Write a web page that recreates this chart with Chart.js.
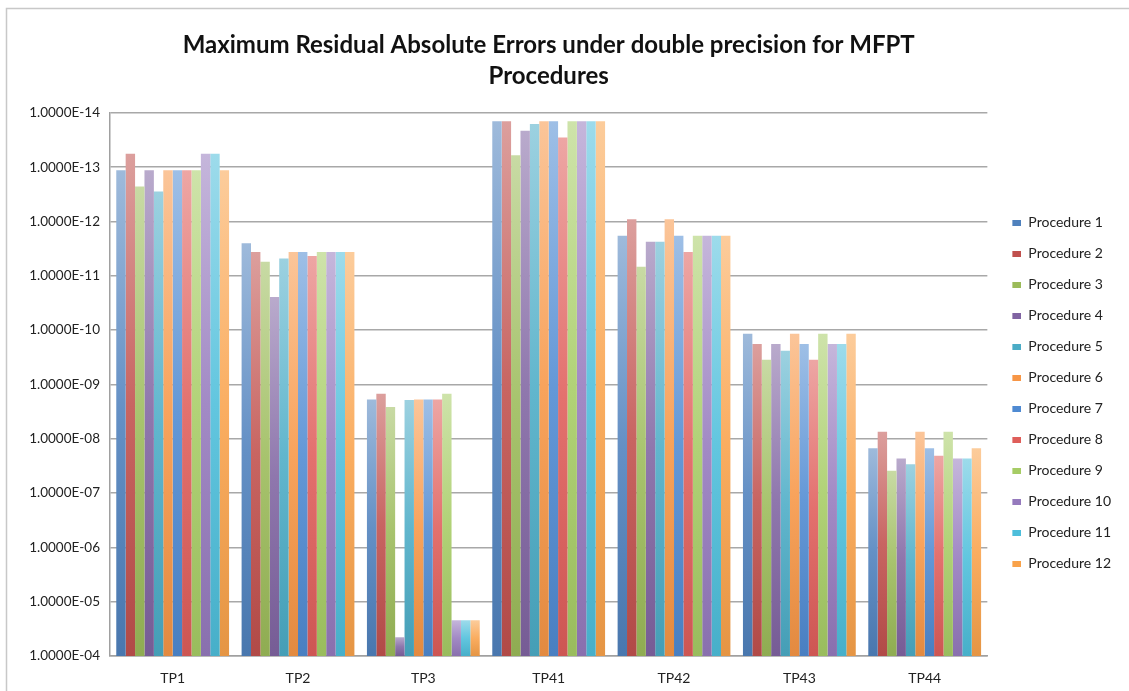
<!DOCTYPE html>
<html>
<head>
<meta charset="utf-8">
<script src="https://cdn.jsdelivr.net/npm/chart.js@4.4.1/dist/chart.umd.min.js"></script>
<style>
  html, body { margin: 0; padding: 0; background: #fff; }
  #wrap { position: absolute; left: 0; top: 0; width: 1129px; height: 691px; }
</style>
</head>
<body>
<div id="wrap"><canvas id="errors"></canvas></div>
<script>
// test problems on the x axis
var categories = ['TP1', 'TP2', 'TP3', 'TP41', 'TP42', 'TP43', 'TP44'];

// max residual absolute error, one array per procedure
var procedure1  = [1.14e-13, 2.5e-12,  1.9e-9,  1.42e-14, 1.82e-12, 1.16e-10, 1.49e-8];
var procedure2  = [5.68e-14, 3.64e-12, 1.48e-9, 1.42e-14, 9.1e-13,  1.8e-10,  7.45e-9];
var procedure3  = [2.27e-13, 5.5e-12,  2.6e-9,  6.0e-14,  6.8e-12,  3.5e-10,  3.9e-8];
var procedure4  = [1.14e-13, 2.45e-11, 4.5e-5,  2.13e-14, 2.35e-12, 1.8e-10,  2.3e-8];
var procedure5  = [2.8e-13,  4.8e-12,  1.93e-9, 1.6e-14,  2.35e-12, 2.4e-10,  2.95e-8];
var procedure6  = [1.14e-13, 3.64e-12, 1.9e-9,  1.42e-14, 9.1e-13,  1.16e-10, 7.45e-9];
var procedure7  = [1.14e-13, 3.64e-12, 1.9e-9,  1.42e-14, 1.82e-12, 1.8e-10,  1.49e-8];
var procedure8  = [1.14e-13, 4.3e-12,  1.9e-9,  2.84e-14, 3.64e-12, 3.5e-10,  2.05e-8];
var procedure9  = [1.14e-13, 3.64e-12, 1.48e-9, 1.42e-14, 1.82e-12, 1.16e-10, 7.45e-9];
var procedure10 = [5.68e-14, 3.64e-12, 2.2e-5,  1.42e-14, 1.82e-12, 1.8e-10,  2.3e-8];
var procedure11 = [5.68e-14, 3.64e-12, 2.2e-5,  1.42e-14, 1.82e-12, 1.8e-10,  2.3e-8];
var procedure12 = [1.14e-13, 3.64e-12, 2.2e-5,  1.42e-14, 1.82e-12, 1.16e-10, 1.49e-8];

// y axis tick values (axis runs 1E-14 at top down to 1E-04)
var yTicks = [1e-14, 1e-13, 1e-12, 1e-11, 1e-10, 1e-9, 1e-8, 1e-7, 1e-6, 1e-5, 1e-4];

var allSeries = [procedure1, procedure2, procedure3, procedure4, procedure5, procedure6,
                 procedure7, procedure8, procedure9, procedure10, procedure11, procedure12];
var colors = ['#4F81BD', '#C0504D', '#9BBB59', '#8064A2', '#4BACC6', '#F79646',
              '#4F8AD2', '#DF5E5A', '#A6CC65', '#957ABD', '#4DBEDB', '#F9A24A'];
var baseValue = yTicks[yTicks.length - 1];

var hexToRgb = function(hex) {
    var n = parseInt(hex.slice(1), 16);
    return [(n >> 16) & 255, (n >> 8) & 255, n & 255];
}
var mix = function(hex, t, target) {
    var c = hexToRgb(hex);
    return 'rgb(' + c.map(function(v) { return Math.round(v + (target - v) * t); }).join(',') + ')';
}

// excel-ish gradient: pale at the top of the bar, full colour at the base
var barFill = function(hex) {
    return function(ctx) {
        var chart = ctx.chart;
        if (!chart.chartArea || !ctx.raw) return hex;
        var y = chart.scales.y;
        var top = y.getPixelForValue(ctx.raw[1]);
        var bottom = y.getPixelForValue(ctx.raw[0]);
        if (!isFinite(top) || !isFinite(bottom) || top === bottom) return hex;
        var g = chart.ctx.createLinearGradient(0, top, 0, bottom);
        g.addColorStop(0, mix(hex, 0.45, 255));
        g.addColorStop(0.5, mix(hex, 0.12, 255));
        g.addColorStop(1, mix(hex, 0.08, 0));
        return g;
    };
}

// small legend swatch with some empty room on its left
var swatch = function(hex) {
    var c = document.createElement('canvas');
    c.width = 17;
    c.height = 6;
    var g = c.getContext('2d');
    g.fillStyle = hex;
    g.fillRect(8, 0, 9, 6);
    return c;
}

var formatTick = function(v) {
    var e = Math.round(Math.log10(v));
    var s = e < 0 ? '-' : '+';
    var a = Math.abs(e);
    return '1.0000E' + s + (a < 10 ? '0' + a : a);
}

var frame = {
    id: 'frame',
    beforeDraw: function(chart) {
        var c = chart.ctx;
        c.save();
        c.strokeStyle = '#C8C8C8';
        c.lineWidth = 1.5;
        c.strokeRect(6.5, 8.5, 1140, 700);
        c.restore();
    }
};

var myBarChart = new Chart('errors', {
    type: 'bar',
    data: {
        labels: categories,
        datasets: allSeries.map(function(values, i) {
            return {
                label: 'Procedure ' + (i + 1),
                data: values.map(function(v) { return [baseValue, v]; }),
                backgroundColor: barFill(colors[i]),
                borderWidth: 0,
                categoryPercentage: 0.9,
                barPercentage: 1.0
            };
        })
    },
    options: {
        responsive: true,
        maintainAspectRatio: false,
        animation: false,
        layout: { padding: { left: 20, right: 8, top: 0, bottom: 6 } },
        plugins: {
            title: {
                display: true,
                fullSize: false,
                text: ['Maximum Residual Absolute Errors under double precision for MFPT', 'Procedures'],
                color: '#111',
                font: { family: 'Lato', size: 24, weight: 'bold', lineHeight: 1.3 },
                padding: { top: 29.5, bottom: 21 }
            },
            legend: {
                position: 'right',
                fullSize: false,
                title: { display: true, text: ' ', color: 'rgba(0,0,0,0)', font: { size: 10, lineHeight: 1 }, padding: 4 },
                labels: {
                    usePointStyle: true,
                    pointStyleWidth: 17,
                    boxHeight: 6,
                    padding: 17,
                    color: '#222',
                    font: { family: 'Lato', size: 14 },
                    generateLabels: function(chart) {
                        return chart.data.datasets.map(function(ds, i) {
                            return {
                                text: ds.label,
                                fillStyle: colors[i],
                                strokeStyle: colors[i],
                                fontColor: '#222',
                                lineWidth: 0,
                                pointStyle: swatch(colors[i]),
                                datasetIndex: i
                            };
                        });
                    }
                }
            },
            tooltip: { enabled: false }
        },
        scales: {
            x: {
                grid: { display: false, drawTicks: false },
                border: { color: '#A0A0A0', width: 1.5 },
                afterFit: function(scale) { scale.height = 29; },
                ticks: { color: '#222', padding: 14, font: { family: 'Lato', size: 14 } }
            },
            y: {
                type: 'logarithmic',
                reverse: true,
                min: yTicks[0],
                max: baseValue,
                afterBuildTicks: function(scale) {
                    scale.ticks = yTicks.map(function(v) { return { value: v, major: false }; });
                },
                afterFit: function(scale) { scale.width = 90; },
                grid: { color: '#A8A8A8', lineWidth: 1.5, drawTicks: false },
                border: { color: '#A0A0A0', width: 1.5 },
                ticks: {
                    color: '#222',
                    padding: 10,
                    font: { family: 'Lato', size: 13.5 },
                    callback: function(v) { return formatTick(v); }
                }
            }
        }
    },
    plugins: [frame]
});
</script>
</body>
</html>
